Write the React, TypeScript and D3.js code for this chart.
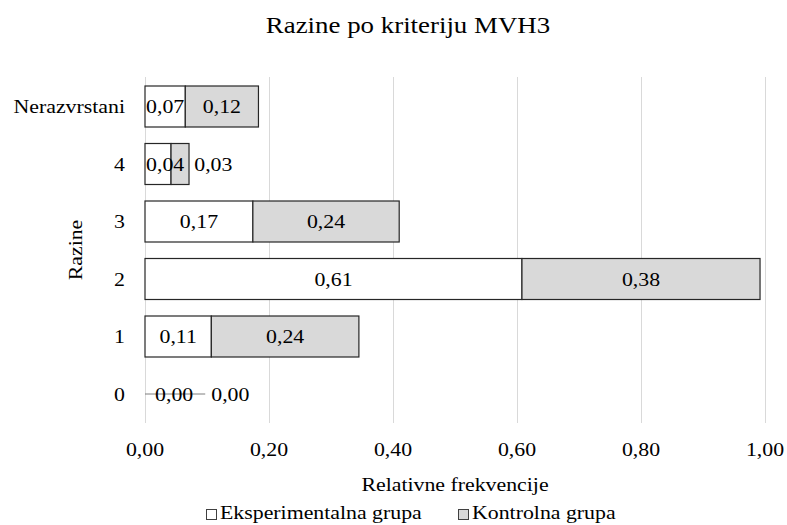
import React from "react";
import * as d3 from "d3";

const title = "Razine po kriteriju MVH3";
const categories = ["Nerazvrstani", "4", "3", "2", "1", "0"];
const eksperimentalna = [0.065, 0.042, 0.174, 0.608, 0.107, 0];
const kontrolna = [0.118, 0.029, 0.236, 0.384, 0.238, 0];
const xTicks = [0, 0.2, 0.4, 0.6, 0.8, 1.0];
const seriesNames = ["Eksperimentalna grupa", "Kontrolna grupa"];
const xTitle = "Relativne frekvencije";
const yTitle = "Razine";

const W = 787;
const H = 525;
const FONT = '"Liberation Serif"';
const SX = 1.12;
const FS = 19.5;
const fills = ["#ffffff", "#d9d9d9"];

const fmt = (v: number) => d3.format(".2f")(v).replace(".", ",");

function T({ x, y, children, size = FS, anchor = "middle", rotate = 0, fill = "#000" }: any) {
  return (
    <text
      transform={`translate(${x},${y}) rotate(${rotate}) scale(${SX},1)`}
      style={{ fontFamily: FONT, fontSize: size }}
      textAnchor={anchor}
      fill={fill}
    >
      {children}
    </text>
  );
}

export default function App() {
  const x = d3.scaleLinear().domain([0, 1]).range([145, 765]);
  const y = d3.scaleBand<string>().domain(categories).range([77.75, 422.75]).paddingInner(0.287).paddingOuter(0.1435);
  const bh = y.bandwidth();
  const labelW = (s: string) => s.length * 0.4375 * FS * SX;

  const rows = categories.map((c, i) => {
    const e = eksperimentalna[i];
    const k = kontrolna[i];
    const cy = (y(c) as number) + bh / 2;
    const zero = e === 0 && k === 0;
    const segs = [
      { x0: x(0), x1: x(e), v: e, fill: fills[0] },
      { x0: x(e), x1: x(e + k), v: k, fill: fills[1] },
    ];
    let prevRight = x(0) + (zero ? 10 : 1);
    const labels = segs.map((s, j) => {
      const txt = fmt(s.v);
      const w = labelW(txt);
      let left = (s.x0 + s.x1) / 2 - w / 2;
      const minLeft = j === 0 ? prevRight : prevRight + (zero ? 18 : 10);
      if (left < minLeft) left = minLeft;
      prevRight = left + w;
      return { txt, cx: left + w / 2 };
    });
    return { c, cy, segs, labels, zero };
  });

  return (
    <svg width={W} height={H} style={{ position: "absolute", left: 0, top: 0, background: "#fff", fontFamily: FONT }}>
      <rect width={W} height={H} fill="#fff" />
      <T x={408} y={33} size={24}>{title}</T>
      {xTicks.map((t) => (
        <line key={t} x1={Math.round(x(t)) + 0.5} x2={Math.round(x(t)) + 0.5} y1={77} y2={423} stroke="#d9d9d9" strokeWidth={1} />
      ))}
      {rows.map((r) => (
        <g key={r.c}>
          {!r.zero &&
            r.segs.map((s, j) => (
              <rect key={j} x={s.x0} y={r.cy - bh / 2} width={s.x1 - s.x0} height={bh} fill={s.fill} stroke="#262626" strokeWidth={1.2} />
            ))}
          {r.zero && (
            <line x1={x(0)} x2={r.labels[0].cx + labelW(r.labels[0].txt) / 2 + 12} y1={r.cy} y2={r.cy} stroke="#7f7f7f" strokeWidth={1} />
          )}
          {r.labels.map((l, j) => (
            <T key={j} x={l.cx} y={r.cy + 6.5}>{l.txt}</T>
          ))}
          <T x={125} y={r.cy + 6.5} anchor="end">{r.c}</T>
        </g>
      ))}
      {xTicks.map((t) => (
        <T key={t} x={x(t)} y={456}>{fmt(t)}</T>
      ))}
      <T x={(x(0) + x(1)) / 2} y={491}>{xTitle}</T>
      <T x={82} y={250} rotate={-90}>{yTitle}</T>
      {seriesNames.map((n, i) => {
        const lx = [206, 458][i];
        return (
          <g key={n}>
            <rect x={lx + 0.5} y={509.5} width={10} height={10} fill={fills[i]} stroke="#404040" strokeWidth={1} />
            <T x={lx + 14} y={519} anchor="start">{n}</T>
          </g>
        );
      })}
    </svg>
  );
}
